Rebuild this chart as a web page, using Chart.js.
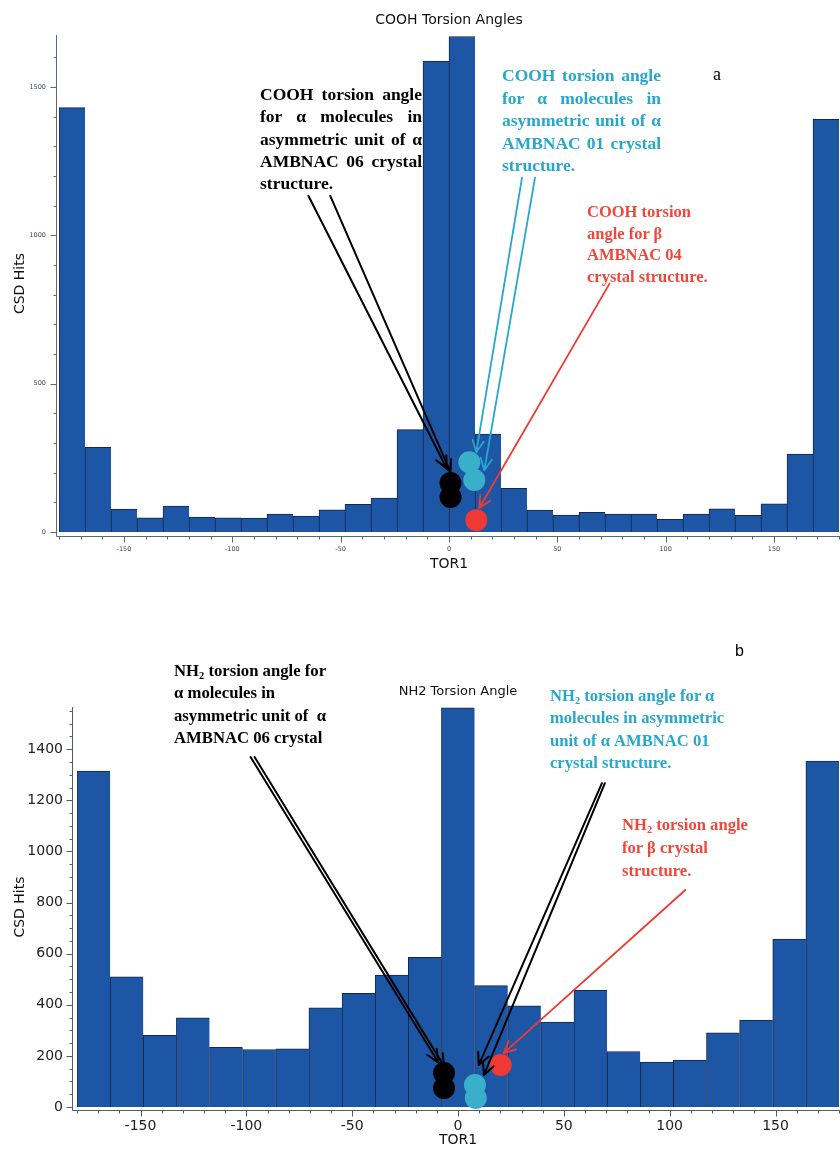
<!DOCTYPE html>
<html>
<head>
<meta charset="utf-8">
<script src="https://cdn.jsdelivr.net/npm/chart.js@4"></script>
<style>
  html, body { margin: 0; padding: 0; background: #fff; overflow: hidden; width: 840px; height: 1151px; }
  #wrap { position: relative; width: 850px; height: 1151px; }
  canvas { position: absolute; left: 0; }
  #topChart { top: 0; }
  #botChart { top: 595px; }
  .note { position: absolute; font-family: "Liberation Serif", "Times New Roman", serif; font-weight: bold; }
  .note.just div { text-align: justify; text-align-last: justify; }
  .note.just div.last { text-align-last: left; }
  .note sub { font-size: 0.62em; vertical-align: -0.28em; line-height: 0; }
  .black { color: #000; }
  .cyan { color: #27a7cc; }
  .red { color: #f0473a; }
  .tag { position: absolute; color: #000; }
</style>
</head>
<body>
<div id="wrap">
  <canvas id="topChart" width="850" height="595"></canvas>
  <canvas id="botChart" width="850" height="556"></canvas>

  <div class="tag" style="left:713px;top:64px;font:18px 'Liberation Serif',serif;line-height:20px;">a</div>
  <div class="tag" style="left:735px;top:643px;font:16px 'Liberation Sans',sans-serif;line-height:16px;">b</div>

  <div class="note just black" style="left:260px;top:83px;width:162px;font-size:17.5px;line-height:22.3px;">
    <div>COOH torsion angle</div><div>for α molecules in</div><div>asymmetric unit of α</div><div>AMBNAC 06 crystal</div><div class="last">structure.</div>
  </div>
  <div class="note just cyan" style="left:502px;top:64px;width:159px;font-size:17.5px;line-height:22.5px;">
    <div>COOH torsion angle</div><div>for α molecules in</div><div>asymmetric unit of α</div><div>AMBNAC 01 crystal</div><div class="last">structure.</div>
  </div>
  <div class="note red" style="left:587px;top:201px;font-size:16.5px;line-height:21.7px;">
    <div>COOH torsion</div><div>angle for β</div><div>AMBNAC 04</div><div>crystal structure.</div>
  </div>

  <div class="note black" style="left:174px;top:660px;font-size:16.7px;line-height:22.3px;">
    <div>NH<sub>2</sub> torsion angle for</div><div>α molecules in</div><div>asymmetric unit of &nbsp;α</div><div>AMBNAC 06 crystal</div>
  </div>
  <div class="note cyan" style="left:550px;top:685px;font-size:16.6px;line-height:22.4px;">
    <div>NH<sub>2</sub> torsion angle for α</div><div>molecules in asymmetric</div><div>unit of α AMBNAC 01</div><div>crystal structure.</div>
  </div>
  <div class="note red" style="left:622px;top:814px;font-size:16.6px;line-height:22.8px;">
    <div>NH<sub>2</sub> torsion angle</div><div>for β crystal</div><div>structure.</div>
  </div>
</div>

<script>
// histogram counts (TOR1 from -180 to 180)
const coohCounts = [1430, 285, 77, 48, 87, 50, 48, 47, 60, 54, 75, 93, 114, 345, 1587,
                    1670, 330, 147, 74, 57, 66, 60, 60, 43, 60, 78, 56, 95, 263, 1391];
const coohBins = 30;
const nh2Counts = [1314, 509, 280, 349, 233, 225, 228, 388, 445, 516, 586, 1562,
                   475, 396, 332, 456, 217, 176, 184, 290, 340, 657, 1353];
const nh2Bins = 23;

// labelled tick values
const torTicks = [-150, -100, -50, 0, 50, 100, 150];
const coohHitTicks = [0, 500, 1000, 1500];
const nh2HitTicks = [0, 200, 400, 600, 800, 1000, 1200, 1400];

// observed torsion angles (circles), x = TOR1, y = position on the hits axis
const coohBlackX = [0.7, 0.7],   coohBlackY = [165, 118];
const coohCyanX  = [9.4, 11.7],  coohCyanY  = [235, 175];
const coohRedX   = [12.6],       coohRedY   = [40];
const nh2BlackX  = [-6.6, -6.6], nh2BlackY  = [133, 74];
const nh2CyanX   = [8.0, 8.4],   nh2CyanY   = [86, 35];
const nh2RedX    = [20.2],       nh2RedY    = [164];

// arrows [x0, y0, x1, y1] in axis units
const coohBlackArrows = [[-64.9, 1133, -1.1, 215], [-54.8, 1133, 0.7, 202]];
const coohCyanArrows  = [[33.7, 1194, 12.6, 269], [39.7, 1194, 16.3, 208]];
const coohRedArrows   = [[74.1, 837, 14.0, 81]];
const nh2BlackArrows  = [[-98.0, 1369, -9.4, 176], [-96.1, 1369, -6.6, 160]];
const nh2MidArrows    = [[68.0, 1267, 9.8, 164], [69.4, 1267, 12.2, 125]];
const nh2RedArrows    = [[107.4, 849, 21.6, 211]];

const torMin = -180, torMax = 180;
const barFill = '#1e56a6', barEdge = '#15264a';
const cBlack = '#000000', cCyan = '#3aafca', cCyanLine = '#27a7cc', cRed = '#ee3a33';
const sans = 'DejaVu Sans';

function bars(counts, n) {
  const w = (torMax - torMin) / n;
  return counts.map((c, i) => ({ x: torMin + w * (i + 0.5), y: c }));
}
function pts(xs, ys) { return xs.map((x, i) => ({ x: x, y: ys[i] })); }
function arrows(list, color, width) { return list.map(a => ({ a: a, color: color, width: width })); }

const axisFrame = {
  id: 'axisFrame',
  afterDatasetsDraw(chart, args, o) {
    const { ctx, chartArea: a, scales: { x, y } } = chart;
    const ax = Math.round(a.left - o.gapX) + 0.5, ay = Math.round(a.bottom + o.gapY) + 0.5;
    ctx.save();
    ctx.strokeStyle = o.color;
    ctx.lineWidth = 1;
    ctx.beginPath();
    ctx.moveTo(ax, a.top); ctx.lineTo(ax, ay); ctx.lineTo(a.right + 10, ay);
    for (let v = 0; v <= y.max; v += o.yMinor) {
      const py = Math.round(y.getPixelForValue(v)) + 0.5;
      const len = v % o.yMajor === 0 ? o.majorLen : o.minorLen;
      ctx.moveTo(ax - len, py); ctx.lineTo(ax, py);
    }
    for (let v = x.min; v <= x.max; v += o.xMinor) {
      const px = Math.round(x.getPixelForValue(v)) + 0.5;
      const len = v % o.xMajor === 0 ? o.majorLen : o.minorLen;
      ctx.moveTo(px, ay); ctx.lineTo(px, ay + len);
    }
    ctx.stroke();
    ctx.restore();
  }
};

const arrowPlugin = {
  id: 'arrows',
  afterDatasetsDraw(chart, args, o) {
    const { ctx, scales: { x, y } } = chart;
    ctx.save();
    ctx.lineCap = 'round';
    ctx.lineJoin = 'round';
    o.list.forEach(item => {
      const [x0, y0, x1, y1] = item.a;
      const p0x = x.getPixelForValue(x0), p0y = y.getPixelForValue(y0);
      const p1x = x.getPixelForValue(x1), p1y = y.getPixelForValue(y1);
      const ang = Math.atan2(p1y - p0y, p1x - p0x);
      ctx.strokeStyle = item.color;
      ctx.lineWidth = item.width;
      ctx.beginPath();
      ctx.moveTo(p0x, p0y); ctx.lineTo(p1x, p1y);
      ctx.moveTo(p1x - o.head * Math.cos(ang - o.spread), p1y - o.head * Math.sin(ang - o.spread));
      ctx.lineTo(p1x, p1y);
      ctx.lineTo(p1x - o.head * Math.cos(ang + o.spread), p1y - o.head * Math.sin(ang + o.spread));
      ctx.stroke();
    });
    ctx.restore();
  }
};

function dot(xs, ys, color, r) {
  return { type: 'scatter', data: pts(xs, ys), backgroundColor: color, pointRadius: r,
           pointHoverRadius: r, pointBorderWidth: 0, clip: false, order: 0 };
}

function makeChart(id, cfg) {
  return new Chart(document.getElementById(id), {
    type: 'bar',
    data: {
      datasets: [
        ...cfg.dots,
        { label: cfg.title, data: cfg.bars, backgroundColor: barFill, borderColor: barEdge,
          borderWidth: { top: 1, left: 1, right: 0, bottom: 0 }, borderSkipped: false,
          categoryPercentage: 1, barPercentage: 1, order: 1 }
      ]
    },
    plugins: [axisFrame, arrowPlugin],
    options: {
      responsive: false,
      animation: false,
      events: [],
      layout: { padding: { left: 0, right: cfg.padRight, top: 0, bottom: 0 } },
      plugins: {
        legend: { display: false },
        tooltip: { enabled: false },
        title: { display: true, text: cfg.title, fullSize: false, color: '#111',
                 font: { family: sans, size: cfg.titleSize, weight: 'normal' }, padding: cfg.titlePad },
        axisFrame: cfg.frame,
        arrows: { list: cfg.arrows, head: 13, spread: 0.45 }
      },
      scales: {
        x: {
          type: 'linear', min: torMin, max: torMax, offset: false,
          grid: { display: false, drawTicks: false, offset: false }, border: { display: false },
          afterBuildTicks: s => { s.ticks = torTicks.map(v => ({ value: v })); },
          ticks: { autoSkip: false, maxRotation: 0, callback: v => String(v),
                   padding: cfg.xTickPad, color: cfg.tickColor, font: { family: sans, size: cfg.tickSize } },
          title: { display: true, text: 'TOR1', color: '#111', font: { family: sans, size: 14 },
                   padding: { top: 0, bottom: cfg.xTitlePad } },
          afterFit: s => { s.height = cfg.xHeight; }
        },
        y: {
          type: 'linear', min: 0, max: cfg.yMax,
          grid: { display: false, drawTicks: false }, border: { display: false },
          afterBuildTicks: s => { s.ticks = cfg.yTicks.map(v => ({ value: v })); },
          ticks: { autoSkip: false, callback: v => String(v), padding: cfg.yTickPad, color: cfg.tickColor,
                   font: { family: sans, size: cfg.tickSize } },
          title: { display: true, text: 'CSD Hits', color: '#111', font: { family: sans, size: 14 },
                   padding: { top: 11.6, bottom: 0 } },
          afterFit: s => { s.width = cfg.yWidth; }
        }
      }
    }
  });
}

makeChart('topChart', {
  title: 'COOH Torsion Angles', titleSize: 14, titlePad: { top: 12.1, bottom: 6.1 },
  bars: bars(coohCounts, coohBins),
  dots: [dot(coohBlackX, coohBlackY, cBlack, 11), dot(coohCyanX, coohCyanY, cCyan, 11), dot(coohRedX, coohRedY, cRed, 11)],
  arrows: [...arrows(coohBlackArrows, cBlack, 2), ...arrows(coohCyanArrows, cCyanLine, 1.8), ...arrows(coohRedArrows, cRed, 1.8)],
  frame: { color: '#56697a', gapX: 3.5, gapY: 4, yMinor: 100, yMajor: 500, xMinor: 10, xMajor: 50, majorLen: 6, minorLen: 3 },
  yMax: 1675, yTicks: coohHitTicks, yWidth: 59, padRight: 6, xHeight: 63,
  tickSize: 6.5, tickColor: '#34485c', xTickPad: 13.6, yTickPad: 13, xTitlePad: 22.6
});

makeChart('botChart', {
  title: 'NH2 Torsion Angle', titleSize: 13, titlePad: { top: 89.2, bottom: 7.2 },
  bars: bars(nh2Counts, nh2Bins),
  dots: [dot(nh2BlackX, nh2BlackY, cBlack, 11), dot(nh2CyanX, nh2CyanY, cCyan, 11), dot(nh2RedX, nh2RedY, cRed, 11)],
  arrows: [...arrows(nh2BlackArrows, cBlack, 2), ...arrows(nh2MidArrows, cBlack, 2), ...arrows(nh2RedArrows, cRed, 1.8)],
  frame: { color: '#555c63', gapX: 5, gapY: 3, yMinor: 50, yMajor: 200, xMinor: 10, xMajor: 50, majorLen: 6, minorLen: 3 },
  yMax: 1565, yTicks: nh2HitTicks, yWidth: 77, padRight: 5, xHeight: 44,
  tickSize: 14, tickColor: '#222', xTickPad: 11, yTickPad: 14, xTitlePad: 2.6
});
</script>
</body>
</html>
